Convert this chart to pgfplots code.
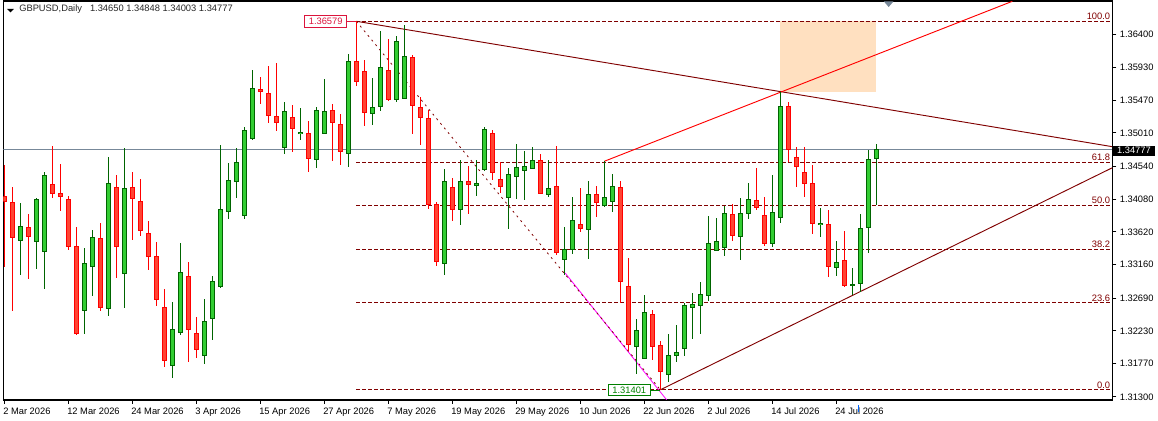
\documentclass[border=0pt]{standalone}
\usepackage{fontspec}
\setmainfont{Liberation Sans}
\usepackage{pgfplots}
\usepackage{pgfplotstable}
\pgfplotsset{compat=1.18}
\definecolor{wr}{HTML}{FF0000}
\definecolor{br}{HTML}{FF4433}
\definecolor{wg}{HTML}{006400}
\definecolor{bg}{HTML}{32CD32}
\definecolor{dr}{HTML}{800000}
\definecolor{bidline}{HTML}{778899}
\definecolor{peach}{HTML}{FFE0C0}
\definecolor{crim}{HTML}{DC143C}
\definecolor{mg}{HTML}{FF00FF}
\definecolor{gb}{HTML}{008000}
\newcommand{\ft}{\fontsize{7}{8}\selectfont}
\pgfplotstableread{
i o h l c
0 1.34120 1.34560 1.33127 1.34044
1 1.34036 1.34251 1.32513 1.33544
3 1.33679 1.33867 1.32962 1.33558
6 1.34288 1.34827 1.34100 1.34162
7 1.34162 1.34574 1.33913 1.34114
8 1.34078 1.34124 1.33370 1.33417
9 1.33417 1.33689 1.32171 1.32189
12 1.33530 1.33745 1.32513 1.32560
14 1.34246 1.34415 1.32976 1.33417
16 1.34246 1.34457 1.33510 1.34086
17 1.34050 1.34363 1.33566 1.33642
18 1.33600 1.33773 1.33089 1.33271
19 1.33277 1.33474 1.32583 1.32673
20 1.32560 1.32817 1.31726 1.31816
23 1.32996 1.33193 1.31796 1.32251
24 1.32195 1.32420 1.31852 1.31970
32 1.35623 1.35792 1.35417 1.35595
33 1.35567 1.35951 1.35154 1.35258
34 1.35244 1.35993 1.35042 1.35160
36 1.35230 1.35398 1.34746 1.35075
38 1.35005 1.35178 1.34466 1.34654
41 1.35328 1.35417 1.34620 1.35160
42 1.35131 1.35272 1.34564 1.34752
44 1.36017 1.36579 1.35674 1.35736
45 1.35876 1.36031 1.35112 1.35300
48 1.35890 1.36326 1.35455 1.35483
51 1.36073 1.36101 1.34995 1.35398
52 1.35370 1.35511 1.34845 1.35230
53 1.35216 1.35328 1.33948 1.34007
54 1.34007 1.34036 1.33145 1.33207
56 1.34246 1.34373 1.33777 1.33937
58 1.34331 1.34541 1.33875 1.34288
61 1.35005 1.35047 1.34345 1.34457
62 1.34359 1.34598 1.34162 1.34260
67 1.34626 1.34710 1.34150 1.34162
69 1.34260 1.34822 1.33291 1.33333
72 1.33726 1.34232 1.33614 1.33670
74 1.34148 1.34260 1.33825 1.34036
77 1.34246 1.34331 1.32617 1.32926
78 1.32855 1.33249 1.31942 1.32040
81 1.32462 1.32518 1.31816 1.32012
82 1.32026 1.32083 1.31401 1.31661
91 1.33867 1.34007 1.33488 1.33572
94 1.34064 1.34513 1.33923 1.33965
95 1.33853 1.34106 1.33417 1.33460
98 1.35384 1.35441 1.34598 1.34780
99 1.34668 1.34808 1.34255 1.34541
100 1.34457 1.34808 1.34114 1.34302
101 1.34302 1.34555 1.33586 1.33741
103 1.33726 1.33923 1.32982 1.33136
105 1.33221 1.33628 1.32841 1.32869
}\redbars
\pgfplotstableread{
i o h l c
2 1.33502 1.34026 1.33018 1.33698
4 1.33488 1.34092 1.33103 1.34078
5 1.33347 1.34457 1.32822 1.34415
10 1.32518 1.33393 1.32189 1.33178
11 1.33131 1.33642 1.32723 1.33544
13 1.32546 1.34668 1.32442 1.34302
15 1.33032 1.34794 1.32555 1.34232
21 1.31745 1.32631 1.31571 1.32251
22 1.32209 1.33464 1.32175 1.33052
25 1.31886 1.32673 1.31768 1.32364
26 1.32406 1.32996 1.32105 1.32926
27 1.32850 1.34836 1.32836 1.33934
28 1.33909 1.34588 1.33805 1.34345
29 1.34331 1.34794 1.34100 1.34598
30 1.33853 1.35094 1.33805 1.35047
31 1.34935 1.35894 1.34915 1.35637
35 1.34808 1.35441 1.34718 1.35314
37 1.34999 1.35360 1.34911 1.35019
39 1.34640 1.35370 1.34522 1.35328
40 1.35005 1.35768 1.35005 1.35314
43 1.34724 1.36119 1.34536 1.36017
46 1.35286 1.35778 1.35126 1.35370
47 1.35384 1.36438 1.35323 1.35932
49 1.35483 1.36368 1.35449 1.36298
50 1.35497 1.36522 1.35483 1.36087
55 1.33178 1.34499 1.33018 1.34331
57 1.33937 1.34626 1.33721 1.34331
59 1.34274 1.34626 1.34128 1.34302
60 1.34499 1.35089 1.34471 1.35061
63 1.34106 1.34513 1.33665 1.34429
64 1.34401 1.34850 1.34078 1.34527
65 1.34485 1.34752 1.34064 1.34541
66 1.34513 1.34808 1.34505 1.34626
68 1.34148 1.34626 1.34106 1.34232
70 1.33235 1.33684 1.33010 1.33375
71 1.33375 1.34106 1.33305 1.33783
73 1.33656 1.34331 1.33232 1.34148
75 1.33984 1.34612 1.33975 1.34106
76 1.34050 1.34429 1.33895 1.34260
79 1.32012 1.32392 1.31619 1.32237
80 1.31844 1.32729 1.31830 1.32490
83 1.31619 1.32181 1.31507 1.31886
84 1.31886 1.32307 1.31788 1.31928
85 1.31984 1.32617 1.31872 1.32588
86 1.32560 1.32757 1.32111 1.32602
87 1.32588 1.32912 1.32181 1.32743
88 1.32729 1.33839 1.32645 1.33460
89 1.33361 1.33811 1.33347 1.33488
90 1.33403 1.33979 1.33277 1.33881
92 1.33558 1.34092 1.33221 1.33881
93 1.33881 1.34302 1.33797 1.34078
96 1.33460 1.34415 1.33403 1.33895
97 1.33825 1.35585 1.33741 1.35384
102 1.33726 1.33951 1.33544 1.33741
104 1.33122 1.33488 1.32996 1.33193
106 1.32869 1.33108 1.32729 1.32883
107 1.32897 1.33867 1.32771 1.33670
108 1.33684 1.34777 1.33319 1.34640
109 1.34650 1.34848 1.34003 1.34777
}\greenbars
\begin{document}
\begin{tikzpicture}
\begin{scope}[x=0.75pt,y=-0.75pt,shift={(-3.5,-400)}]
\path[use as bounding box] (0,0) rectangle (1158,417);
\end{scope}
\begin{axis}[
  scale only axis, width=831.75pt, height=299.25pt,
  at={(0,0)}, anchor=south west,
  xmin=-0.104, xmax=138.51, ymin=1.31258, ymax=1.36864,
  axis line style={line width=1pt},
  tick style={black,line width=0.75pt},
  major tick length=3pt, tick align=outside,
  xtick={0,8,...,104},
  xticklabels={2 Mar 2026,12 Mar 2026,24 Mar 2026,3 Apr 2026,15 Apr 2026,27 Apr 2026,7 May 2026,19 May 2026,29 May 2026,10 Jun 2026,22 Jun 2026,2 Jul 2026,14 Jul 2026,24 Jul 2026},
  xtick pos=bottom,
  xticklabel style={font=\ft,anchor=north west,xshift=-1pt,yshift=0.6pt,inner xsep=0pt},
  ytick={1.313,1.3177,1.3223,1.3269,1.3316,1.3362,1.3408,1.3454,1.3501,1.3547,1.3593,1.364},
  ytick pos=right, yticklabel pos=right,
  scaled y ticks=false,
  yticklabel style={font=\ft,/pgf/number format/fixed,/pgf/number format/fixed zerofill,/pgf/number format/precision=5,/pgf/number format/assume math mode=true,anchor=west,xshift=-1pt},
]
% horizontal price line and rectangle
\addplot[draw=bidline,line width=1pt,forget plot] coordinates {(-0.104,1.34773)(138.51,1.34773)};
\addplot[draw=none,fill=peach,forget plot] coordinates {(97,1.36579)(108.95,1.36579)(108.95,1.35585)(97,1.35585)} -- cycle;
% fibonacci levels
\addplot[draw=dr,line width=0.7pt,dash pattern=on 3pt off 1.5pt,forget plot] coordinates {(44,1.36579)(138.2,1.36579)};
\addplot[draw=dr,line width=0.7pt,dash pattern=on 3pt off 1.5pt,forget plot] coordinates {(44,1.34601)(138.2,1.34601)};
\addplot[draw=dr,line width=0.7pt,dash pattern=on 3pt off 1.5pt,forget plot] coordinates {(44,1.33990)(138.2,1.33990)};
\addplot[draw=dr,line width=0.7pt,dash pattern=on 3pt off 1.5pt,forget plot] coordinates {(44,1.33379)(138.2,1.33379)};
\addplot[draw=dr,line width=0.7pt,dash pattern=on 3pt off 1.5pt,forget plot] coordinates {(44,1.32623)(138.2,1.32623)};
\addplot[draw=dr,line width=0.7pt,dash pattern=on 3pt off 1.5pt,forget plot] coordinates {(44,1.31401)(138.2,1.31401)};
% trend lines
\addplot[draw=mg,line width=0.6pt,forget plot] coordinates {(70.1,1.33042)(82.8,1.31258)};
\addplot[draw=dr,line width=0.6pt,dash pattern=on 1.5pt off 3pt,forget plot] coordinates {(44,1.36579)(82,1.31401)};
\addplot[draw=dr,line width=0.7pt,forget plot] coordinates {(44,1.36579)(138.51,1.34817)};
\addplot[draw=dr,line width=0.7pt,forget plot] coordinates {(82,1.31401)(138.51,1.34522)};
\addplot[draw=wr,line width=0.7pt,forget plot] coordinates {(75,1.34612)(126,1.36860)};
% candles
\addplot[draw=none,mark=none,forget plot,error bars/.cd,y dir=both,y explicit,error mark=none,error bar style={draw=wr,solid,line width=0.75pt}]
 table[x=i,y=c,y error plus expr=\thisrow{h}-\thisrow{c},y error minus expr=\thisrow{c}-\thisrow{l}] {\redbars};
\addplot[draw=none,mark=none,forget plot,error bars/.cd,y dir=plus,y explicit,error mark=none,error bar style={draw=wr,solid,line width=3.75pt,shorten >=-0.375pt,shorten <=-0.375pt}]
 table[x=i,y=c,y error plus expr=\thisrow{o}-\thisrow{c}] {\redbars};
\addplot[draw=none,mark=none,forget plot,error bars/.cd,y dir=plus,y explicit,error mark=none,error bar style={draw=br,solid,line width=2.4pt,shorten >=0.375pt,shorten <=0.375pt}]
 table[x=i,y=c,y error plus expr=\thisrow{o}-\thisrow{c}] {\redbars};
\addplot[draw=none,mark=none,forget plot,error bars/.cd,y dir=both,y explicit,error mark=none,error bar style={draw=wg,solid,line width=0.75pt}]
 table[x=i,y=o,y error plus expr=\thisrow{h}-\thisrow{o},y error minus expr=\thisrow{o}-\thisrow{l}] {\greenbars};
\addplot[draw=none,mark=none,forget plot,error bars/.cd,y dir=plus,y explicit,error mark=none,error bar style={draw=wg,solid,line width=3.75pt,shorten >=-0.375pt,shorten <=-0.375pt}]
 table[x=i,y=o,y error plus expr=\thisrow{c}-\thisrow{o}] {\greenbars};
\addplot[draw=none,mark=none,forget plot,error bars/.cd,y dir=plus,y explicit,error mark=none,error bar style={draw=bg,solid,line width=2.4pt,shorten >=0.375pt,shorten <=0.375pt}]
 table[x=i,y=o,y error plus expr=\thisrow{c}-\thisrow{o}] {\greenbars};
% fibonacci labels
\node[font=\ft,text=dr,anchor=south east,inner sep=0pt,yshift=1pt] at (axis cs:138.25,1.36579) {100.0};
\node[font=\ft,text=dr,anchor=south east,inner sep=0pt,yshift=1pt] at (axis cs:138.25,1.34601) {61.8};
\node[font=\ft,text=dr,anchor=south east,inner sep=0pt,yshift=1pt] at (axis cs:138.25,1.33990) {50.0};
\node[font=\ft,text=dr,anchor=south east,inner sep=0pt,yshift=1pt] at (axis cs:138.25,1.33379) {38.2};
\node[font=\ft,text=dr,anchor=south east,inner sep=0pt,yshift=1pt] at (axis cs:138.25,1.32623) {23.6};
\node[font=\ft,text=dr,anchor=south east,inner sep=0pt,yshift=1pt] at (axis cs:138.25,1.31401) {0.0};
\end{axis}
\begin{scope}[x=0.75pt,y=-0.75pt,shift={(-3.5,-400)}]
% title
\fill[black] (7,9) -- (14,9) -- (10.5,12.5) -- cycle;
\node[font=\ft,anchor=west,inner sep=0pt,text=black!85] at (19,9.5) {GBPUSD,Daily\hspace{6pt}1.34650 1.34848 1.34003 1.34777};
% top marker
\fill[bidline] (884,1.5) -- (893.5,1.5) -- (888.7,7) -- cycle;
% price tag
\fill[black] (1112.5,145.7) rectangle (1155,155.7);
\node[font=\ft,text=white,anchor=center,inner sep=0pt] at (1134,150.7) {1.34777};
% point labels
\draw[crim,line width=0.75pt] (347,21.5) -- (356.5,21.5);
\node[font=\ft,text=crim,draw=crim,fill=white,line width=0.75pt,inner sep=0pt,minimum width=31.5pt,minimum height=8.5pt] at (325.7,21.5) {1.36579};
\draw[gb,line width=0.75pt] (650.7,390.3) -- (660.5,390.3);
\node[font=\ft,text=gb,draw=gb,fill=white,line width=0.75pt,inner sep=0pt,minimum width=31.5pt,minimum height=8.5pt] at (629.3,390.3) {1.31401};
% cursor mark
\fill[blue!60!cyan] (858,405) rectangle (859,412);
\end{scope}
\end{tikzpicture}
\end{document}
